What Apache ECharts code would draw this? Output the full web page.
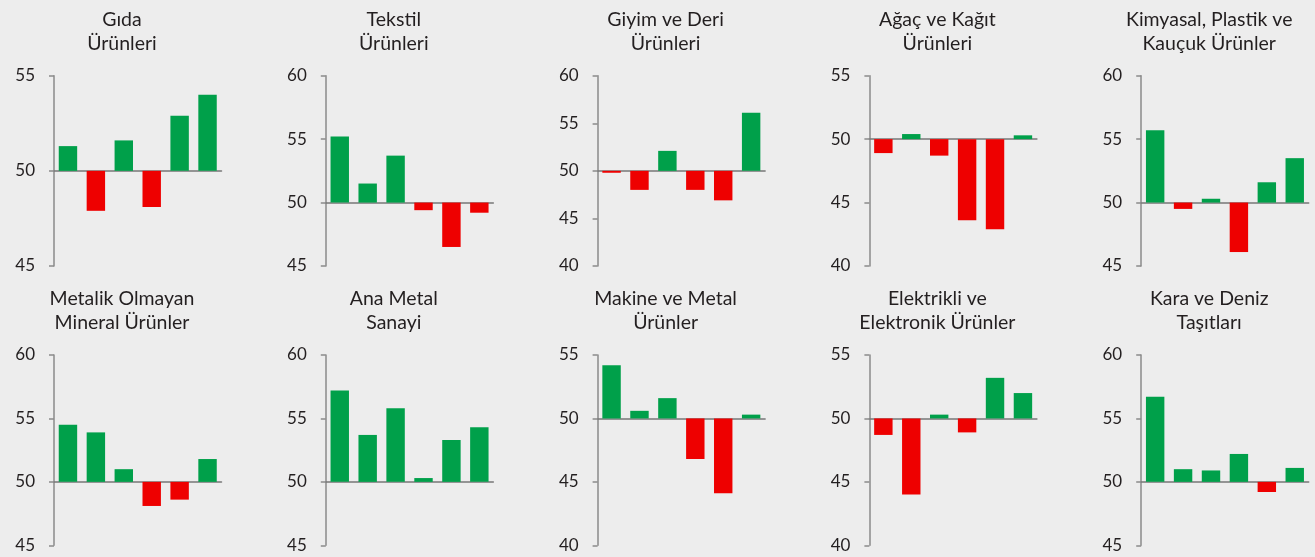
<!DOCTYPE html>
<html>
<head>
<meta charset="utf-8">
<script src="https://cdn.jsdelivr.net/npm/echarts@6/dist/echarts.min.js"></script>
<style>
  html, body { margin: 0; padding: 0; background: #ededed; }
  #chart { width: 1315px; height: 557px; }
</style>
</head>
<body>
<div id="chart"></div>
<script>
// sıradaki 6 dönem (eksende etiket yok)
const periods = ['1', '2', '3', '4', '5', '6'];

const titles = [
    'Gıda\nÜrünleri',
    'Tekstil\nÜrünleri',
    'Giyim ve Deri\nÜrünleri',
    'Ağaç ve Kağıt\nÜrünleri',
    'Kimyasal, Plastik ve\nKauçuk Ürünler',
    'Metalik Olmayan\nMineral Ürünler',
    'Ana Metal\nSanayi',
    'Makine ve Metal\nÜrünler',
    'Elektrikli ve\nElektronik Ürünler',
    'Kara ve Deniz\nTaşıtları'
];

const gida = [51.3, 47.9, 51.6, 48.1, 52.9, 54.0];
const tekstil = [55.2, 51.5, 53.7, 49.4, 46.5, 49.2];
const giyim = [49.8, 48.0, 52.1, 48.0, 46.9, 56.1];
const agac = [48.9, 50.4, 48.7, 43.6, 42.9, 50.3];
const kimyasal = [55.7, 49.5, 50.3, 46.1, 51.6, 53.5];
const metalikOlmayan = [54.5, 53.9, 51.0, 48.1, 48.6, 51.8];
const anaMetal = [57.2, 53.7, 55.8, 50.3, 53.3, 54.3];
const makine = [54.2, 50.6, 51.6, 46.8, 44.1, 50.3];
const elektrikli = [48.7, 44.0, 50.3, 48.9, 53.2, 52.0];
const kara = [56.7, 51.0, 50.9, 52.2, 49.2, 51.1];

// eksen aralıkları [min, max]
const axisMin = [45, 45, 40, 40, 45, 45, 45, 40, 40, 45];
const axisMax = [55, 60, 60, 55, 60, 60, 60, 55, 55, 60];

const seriesData = [gida, tekstil, giyim, agac, kimyasal, metalikOlmayan, anaMetal, makine, elektrikli, kara];

const BASE = 50; // barlar 50 çizgisinden başlıyor
const GREEN = '#00a04a';
const RED = '#ee0000';
const TEXT = '#231f20';

const chart = echarts.init(document.getElementById('chart'));

const grids = [], xAxes = [], yAxes = [], series = [], titleList = [];

seriesData.forEach((values, i) => {
    const col = i % 5;
    const row = Math.floor(i / 5);
    const left = 54 + 271.8 * col;
    const top = 75.7 + 279.3 * row;

    grids.push({ left: left, top: top, width: 167.5, height: 190.3 });

    titleList.push({
        text: titles[i],
        left: left + 68,
        top: 7 + 279.3 * row,
        textAlign: 'center',
        padding: 0,
        textStyle: {
            fontFamily: 'Lato',
            fontSize: 19.5,
            fontWeight: 'normal',
            color: TEXT,
            lineHeight: 24.5
        }
    });

    xAxes.push({
        type: 'category',
        gridIndex: i,
        data: periods,
        axisLine: { onZero: true, lineStyle: { color: '#777', width: 1.5 } },
        axisTick: { show: false },
        axisLabel: { show: false }
    });

    yAxes.push({
        type: 'value',
        gridIndex: i,
        min: axisMin[i] - BASE,
        max: axisMax[i] - BASE,
        interval: 5,
        splitLine: { show: false },
        axisLine: { show: true, onZero: false, lineStyle: { color: '#8a8a8a', width: 1.5 } },
        axisTick: { show: true, length: 5, lineStyle: { color: '#8a8a8a', width: 1.5 } },
        axisLabel: {
            margin: 19,
            fontFamily: 'Lato',
            fontSize: 17,
            color: TEXT,
            formatter: v => String(v + BASE)
        }
    });

    series.push({
        type: 'bar',
        xAxisIndex: i,
        yAxisIndex: i,
        barWidth: '66%',
        silent: true,
        data: values.map(v => ({
            value: +(v - BASE).toFixed(2),
            itemStyle: { color: v >= BASE ? GREEN : RED }
        }))
    });
});

chart.setOption({
    backgroundColor: '#ededed',
    animation: false,
    title: titleList,
    grid: grids,
    xAxis: xAxes,
    yAxis: yAxes,
    series: series
});
</script>
</body>
</html>
